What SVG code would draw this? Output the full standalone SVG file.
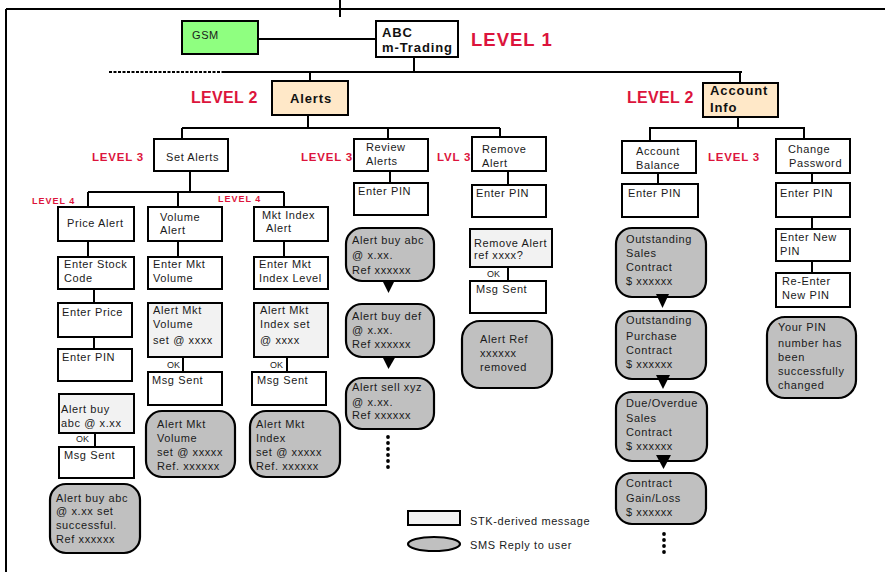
<svg xmlns="http://www.w3.org/2000/svg" width="890" height="572" viewBox="0 0 890 572">
<style>
.box{fill:#fff;stroke:#000;stroke-width:2}
.stk{fill:#F2F2F2;stroke:#000;stroke-width:2}
.sms{fill:#C0C0C0;stroke:#000;stroke-width:2.2}
.c{stroke:#000;stroke-width:2;fill:none}
.t{font-family:"Liberation Sans",Arial,sans-serif;font-size:11px;letter-spacing:0.6px;fill:#1a1a1a}
.b{font-family:"Liberation Sans",Arial,sans-serif;font-size:13px;font-weight:bold;letter-spacing:0.9px;fill:#111}
.lv{font-family:"Liberation Sans",Arial,sans-serif;font-weight:bold;fill:#DC143C}
.ok{font-family:"Liberation Sans",Arial,sans-serif;font-size:9px;fill:#1a1a1a}
.dot{fill:#000}
</style>
<rect width="890" height="572" fill="#fff"/>
<g id="connectors">
<path class="c" d="M6,9H885M6,9V572" stroke-width="2.5"/>
<path class="c" d="M340,0V17"/>
<path class="c" d="M258,39H376"/>
<path class="c" d="M414,57V72"/>
<path class="c" d="M109,72H223" stroke-dasharray="3,1.5"/>
<path class="c" d="M223,72H742"/>
<path class="c" d="M310,72V81M740,72V83"/>
<path class="c" d="M308,115V128M182,128H500M182,128V139M388,128V139M500,128V137"/>
<path class="c" d="M738,117V128M649,128H805M650,128V141M804,128V139"/>
<path class="c" d="M190,171V192M88,192H284M88,192V207M178,192V207M284,192V207"/>
<path class="c" d="M88,241V257M94,289V303M94,337V349M95,433V447"/>
<path class="c" d="M178,241V257M183,357V372"/>
<path class="c" d="M284,241V257M287,357V372"/>
<path class="c" d="M390,171V183"/>
<path class="c" d="M508,171V185M508,267V281"/>
<path class="c" d="M658,173V184"/>
<path class="c" d="M812,173V183M812,217V229M812,261V273"/>
</g>
<g id="levels">
<text class="lv" x="471" y="46" font-size="18.5" letter-spacing="1">LEVEL 1</text>
<text class="lv" x="191" y="103" font-size="16" letter-spacing="0.3">LEVEL 2</text>
<text class="lv" x="627" y="103" font-size="16" letter-spacing="0.3">LEVEL 2</text>
<text class="lv" x="92" y="161" font-size="11.5" letter-spacing="0.8">LEVEL 3</text>
<text class="lv" x="301" y="161" font-size="11.5" letter-spacing="0.8">LEVEL 3</text>
<text class="lv" x="437" y="161" font-size="11.5" letter-spacing="0.8">LVL 3</text>
<text class="lv" x="708" y="161" font-size="11.5" letter-spacing="0.8">LEVEL 3</text>
<text class="lv" x="32" y="204" font-size="9" letter-spacing="1">LEVEL 4</text>
<text class="lv" x="218" y="202" font-size="9" letter-spacing="1">LEVEL 4</text>
</g>
<g id="gsm"><rect x="182" y="21" width="76" height="33" fill="#8FFF80" stroke="#000" stroke-width="2"/><text class="t" x="192" y="39">GSM</text></g>
<g id="abc"><rect class="box" x="376" y="21" width="82" height="36"/><text class="b" x="382" y="37">ABC</text><text class="b" x="382" y="52">m-Trading</text></g>
<g id="alerts"><rect x="272" y="81" width="76" height="34" fill="#FFE8C8" stroke="#000" stroke-width="2"/><text class="b" x="311" y="103" text-anchor="middle">Alerts</text></g>
<g id="account-info"><rect x="703" y="83" width="75" height="34" fill="#FFE8C8" stroke="#000" stroke-width="2"/><text class="b" x="710" y="95">Account</text><text class="b" x="710" y="112">Info</text></g>
<g id="set-alerts"><rect class="box" x="154" y="139" width="74" height="32"/><text class="t" x="166" y="161">Set Alerts</text></g>
<g id="review-alerts"><rect class="box" x="354" y="139" width="74" height="32"/><text class="t" x="366" y="151">Review</text><text class="t" x="366" y="165">Alerts</text></g>
<g id="remove-alert"><rect class="box" x="472" y="137" width="74" height="34"/><text class="t" x="482" y="153">Remove</text><text class="t" x="482" y="167">Alert</text></g>
<g id="account-balance"><rect class="box" x="622" y="141" width="74" height="32"/><text class="t" x="636" y="155">Account</text><text class="t" x="636" y="169">Balance</text></g>
<g id="change-password"><rect class="box" x="776" y="139" width="74" height="34"/><text class="t" x="788" y="153">Change</text><text class="t" x="789" y="167">Password</text></g>
<g id="price-alert"><rect class="box" x="58" y="207" width="76" height="34"/><text class="t" x="67" y="227">Price Alert</text></g>
<g id="volume-alert"><rect class="box" x="148" y="207" width="74" height="34"/><text class="t" x="160" y="221">Volume</text><text class="t" x="160" y="234">Alert</text></g>
<g id="index-alert"><rect class="box" x="254" y="207" width="74" height="34"/><text class="t" x="262" y="219">Mkt Index</text><text class="t" x="266" y="232">Alert</text></g>
<g id="enter-stock-code"><rect class="box" x="58" y="257" width="76" height="32"/><text class="t" x="64" y="268">Enter Stock</text><text class="t" x="64" y="282">Code</text></g>
<g id="enter-price"><rect class="box" x="58" y="303" width="74" height="34"/><text class="t" x="62" y="316">Enter Price</text></g>
<g id="price-enter-pin"><rect class="box" x="58" y="349" width="74" height="32"/><text class="t" x="62" y="361">Enter PIN</text></g>
<g id="price-confirm"><rect class="stk" x="59" y="394" width="75" height="39"/><text class="t" x="61" y="413">Alert buy</text><text class="t" x="61" y="427">abc @ x.xx</text><text class="ok" x="76" y="442">OK</text></g>
<g id="price-msg-sent"><rect class="box" x="59" y="447" width="75" height="31"/><text class="t" x="64" y="459">Msg Sent</text></g>
<g id="price-reply"><rect class="sms" x="50" y="484" width="90" height="69" rx="16"/><text class="t" x="56" y="502">Alert buy abc</text><text class="t" x="56" y="515">@ x.xx set</text><text class="t" x="56" y="529">successful.</text><text class="t" x="56" y="543">Ref xxxxxx</text></g>
<g id="enter-mkt-volume"><rect class="box" x="148" y="257" width="74" height="32"/><text class="t" x="153" y="268">Enter Mkt</text><text class="t" x="153" y="282">Volume</text></g>
<g id="volume-confirm"><rect class="stk" x="148" y="303" width="74" height="54"/><text class="t" x="153" y="314">Alert Mkt</text><text class="t" x="153" y="328">Volume</text><text class="t" x="153" y="344">set @ xxxx</text><text class="ok" x="167" y="368">OK</text></g>
<g id="volume-msg-sent"><rect class="box" x="148" y="372" width="74" height="33"/><text class="t" x="152" y="384">Msg Sent</text></g>
<g id="volume-reply"><rect class="sms" x="146" y="411" width="89" height="66" rx="16"/><text class="t" x="157" y="428">Alert Mkt</text><text class="t" x="157" y="442">Volume</text><text class="t" x="157" y="456">set @ xxxxx</text><text class="t" x="157" y="470">Ref. xxxxxx</text></g>
<g id="enter-mkt-index"><rect class="box" x="254" y="257" width="74" height="32"/><text class="t" x="259" y="268">Enter Mkt</text><text class="t" x="259" y="282">Index Level</text></g>
<g id="index-confirm"><rect class="stk" x="254" y="303" width="74" height="54"/><text class="t" x="260" y="314">Alert Mkt</text><text class="t" x="260" y="328">Index set</text><text class="t" x="260" y="344">@ xxxx</text><text class="ok" x="270" y="368">OK</text></g>
<g id="index-msg-sent"><rect class="box" x="252" y="372" width="74" height="33"/><text class="t" x="257" y="384">Msg Sent</text></g>
<g id="index-reply"><rect class="sms" x="250" y="411" width="90" height="66" rx="16"/><text class="t" x="256" y="428">Alert Mkt</text><text class="t" x="256" y="442">Index</text><text class="t" x="256" y="456">set @ xxxxx</text><text class="t" x="256" y="470">Ref. xxxxxx</text></g>
<g id="review-enter-pin"><rect class="box" x="354" y="183" width="74" height="32"/><text class="t" x="358" y="195">Enter PIN</text></g>
<g id="review-reply-1"><rect class="sms" x="346" y="228" width="88" height="53" rx="16"/><text class="t" x="352" y="244">Alert buy abc</text><text class="t" x="352" y="259">@ x.xx.</text><text class="t" x="352" y="274">Ref xxxxxx</text><path d="M382,280H395L388.5,293Z" fill="#000"/></g>
<g id="review-reply-2"><rect class="sms" x="346" y="304" width="88" height="53" rx="16"/><text class="t" x="352" y="320">Alert buy def</text><text class="t" x="352" y="334">@ x.xx.</text><text class="t" x="352" y="348">Ref xxxxxx</text><path d="M382,356H396L388.5,369Z" fill="#000"/></g>
<g id="review-reply-3"><rect class="sms" x="346" y="378" width="88" height="51" rx="16"/><text class="t" x="352" y="391">Alert sell xyz</text><text class="t" x="352" y="406">@ x.xx.</text><text class="t" x="352" y="419">Ref xxxxxx</text>
<circle class="dot" cx="388" cy="437" r="1.9"/><circle class="dot" cx="388" cy="443" r="1.9"/><circle class="dot" cx="388" cy="449" r="1.9"/><circle class="dot" cx="388" cy="455" r="1.9"/><circle class="dot" cx="388" cy="461" r="1.9"/><circle class="dot" cx="388" cy="467" r="1.9"/></g>
<g id="remove-enter-pin"><rect class="box" x="472" y="185" width="74" height="32"/><text class="t" x="476" y="197">Enter PIN</text></g>
<g id="remove-confirm"><rect class="stk" x="470" y="229" width="82" height="38"/><text class="t" x="474" y="247">Remove Alert</text><text class="t" x="474" y="259">ref xxxx?</text><text class="ok" x="487" y="277">OK</text></g>
<g id="remove-msg-sent"><rect class="box" x="470" y="281" width="76" height="32"/><text class="t" x="476" y="293">Msg Sent</text></g>
<g id="remove-reply"><rect class="sms" x="462" y="321" width="90" height="67" rx="18"/><text class="t" x="480" y="343">Alert Ref</text><text class="t" x="480" y="357">xxxxxx</text><text class="t" x="480" y="371">removed</text></g>
<g id="balance-enter-pin"><rect class="box" x="622" y="184" width="76" height="33"/><text class="t" x="628" y="197">Enter PIN</text></g>
<g id="balance-reply-1"><rect class="sms" x="616" y="228" width="90" height="69" rx="16"/><text class="t" x="626" y="243">Outstanding</text><text class="t" x="626" y="257">Sales</text><text class="t" x="626" y="271">Contract</text><text class="t" x="626" y="285">$ xxxxxx</text><path d="M656,294H669L662.5,308Z" fill="#000"/></g>
<g id="balance-reply-2"><rect class="sms" x="616" y="311" width="90" height="68" rx="16"/><text class="t" x="626" y="324">Outstanding</text><text class="t" x="626" y="340">Purchase</text><text class="t" x="626" y="354">Contract</text><text class="t" x="626" y="368">$ xxxxxx</text><path d="M656,375H670L663,389Z" fill="#000"/></g>
<g id="balance-reply-3"><rect class="sms" x="616" y="392" width="91" height="69" rx="16"/><text class="t" x="626" y="407">Due/Overdue</text><text class="t" x="626" y="422">Sales</text><text class="t" x="626" y="436">Contract</text><text class="t" x="626" y="450">$ xxxxxx</text><path d="M656,455H671L663.5,469Z" fill="#000"/></g>
<g id="balance-reply-4"><rect class="sms" x="616" y="473" width="90" height="51" rx="16"/><text class="t" x="626" y="487">Contract</text><text class="t" x="626" y="502">Gain/Loss</text><text class="t" x="626" y="516">$ xxxxxx</text>
<circle class="dot" cx="664" cy="534" r="1.9"/><circle class="dot" cx="664" cy="540" r="1.9"/><circle class="dot" cx="664" cy="546" r="1.9"/><circle class="dot" cx="664" cy="552" r="1.9"/></g>
<g id="password-enter-pin"><rect class="box" x="776" y="183" width="74" height="34"/><text class="t" x="780" y="197">Enter PIN</text></g>
<g id="enter-new-pin"><rect class="box" x="776" y="229" width="74" height="32"/><text class="t" x="780" y="241">Enter New</text><text class="t" x="780" y="255">PIN</text></g>
<g id="reenter-new-pin"><rect class="box" x="776" y="273" width="74" height="34"/><text class="t" x="782" y="285">Re-Enter</text><text class="t" x="782" y="299">New PIN</text></g>
<g id="password-reply"><rect class="sms" x="767" y="317" width="89" height="81" rx="18"/><text class="t" x="778" y="331">Your PIN</text><text class="t" x="778" y="347">number has</text><text class="t" x="778" y="361">been</text><text class="t" x="778" y="375">successfully</text><text class="t" x="778" y="389">changed</text></g>
<g id="legend"><rect class="stk" x="408" y="511" width="52" height="14"/><text class="t" x="470" y="525">STK-derived message</text><ellipse class="sms" cx="434" cy="544" rx="26" ry="7"/><text class="t" x="470" y="549">SMS Reply to user</text></g>
</svg>
